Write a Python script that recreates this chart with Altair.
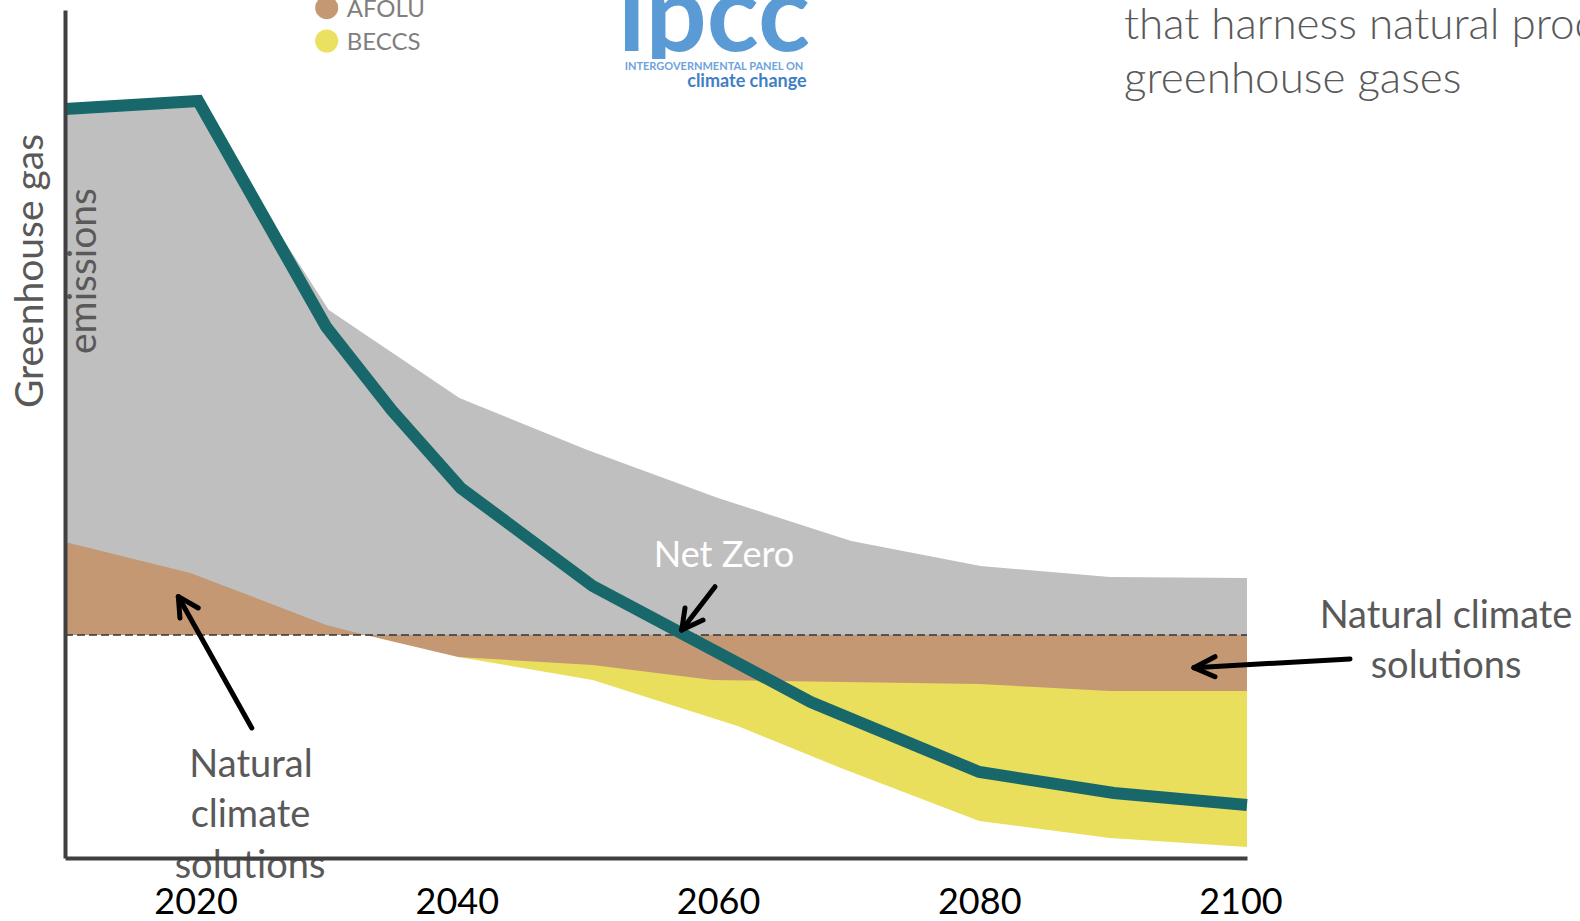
import altair as alt
import pandas as pd

# ---------------- data ----------------
gross_years = [2010, 2020, 2030.2, 2040.2, 2050, 2060, 2070.2, 2080.1, 2090, 2100.5]
gross_top = [52.4, 53.1, 32.5, 23.7, 18.5, 13.7, 9.4, 6.9, 5.8, 5.7]

afolu_years = [2010, 2019.6, 2030, 2033, 2040.1, 2050.4, 2059.6, 2080, 2090, 2100.5]
afolu_vals = [9.3, 6.2, 1.0, 0.0, -2.2, -3.0, -4.5, -4.9, -5.6, -5.6]

beccs_years = [2040.1, 2050.4, 2061.5, 2069.4, 2080, 2090, 2100.5]
beccs_vals = [-2.2, -4.5, -9.1, -13.3, -18.6, -20.3, -21.2]

net_years = [2010, 2020.2, 2030, 2035, 2040.3, 2050.4, 2067.1, 2080, 2090.3, 2100.5]
net_vals = [52.6, 53.4, 30.8, 22.5, 14.7, 4.9, -6.7, -13.7, -15.8, -17.0]

tick_years = [2020, 2040, 2060, 2080, 2100]

# annotation arrows (data units): tail -> tip, plus two head wings
arrow_tail_x = [2024.3, 2059.77, 2108.39]
arrow_tail_y = [-9.3, 4.83, -2.4]
arrow_tip_x = [2018.68, 2057.22, 2096.44]
arrow_tip_y = [3.83, 0.5, -3.27]
arrow_w1_x = [2018.8, 2057.47, 2098.05]
arrow_w1_y = [1.7, 2.7, -2.17]
arrow_w2_x = [2020.2, 2058.85, 2098.05]
arrow_w2_y = [2.7, 1.5, -4.17]

# ---------------- styling ----------------
GREY = "#bfbfbf"
BROWN = "#c39873"
YELLOW = "#e9df5c"
TEAL = "#17676b"
TXT = "#595959"
FONT = "Lato"
OX, OY = 65, 10  # plot origin inside the page

xs = alt.Scale(domain=[2010, 2100.5], nice=False, zero=False)
ys = alt.Scale(domain=[-22.3, 62.5], nice=False, zero=False)
xaxis = alt.Axis(values=tick_years, format="d", title=None, ticks=False, tickSize=0,
                 grid=False, labelFont=FONT, labelFontSize=36, labelColor="black",
                 labelPadding=55, labelBaseline="alphabetic", domainColor="#404040",
                 domainWidth=4, zindex=1, labelFlush=False)
yaxis = alt.Axis(title=None, labels=False, ticks=False, tickSize=0, grid=False,
                 domainColor="#404040", domainWidth=4, zindex=1)


def X(f):
    return alt.X(f, type="quantitative", scale=xs, axis=xaxis)


def Y(f):
    return alt.Y(f, type="quantitative", scale=ys, axis=yaxis)


gross_df = pd.DataFrame({"year": gross_years, "top": gross_top, "zero": 0.0})
afolu_df = pd.DataFrame({"year": afolu_years, "v": afolu_vals, "zero": 0.0})
beccs_df = pd.DataFrame({"year": beccs_years, "v": beccs_vals, "zero": 0.0})
net_df = pd.DataFrame({"year": net_years, "v": net_vals})

grey = alt.Chart(gross_df).mark_area(color=GREY, opacity=1).encode(
    x=X("year"), y=Y("top"), y2="zero")
yellow = alt.Chart(beccs_df).mark_area(color=YELLOW, opacity=1).encode(
    x=X("year"), y=Y("v"), y2="zero")
brown = alt.Chart(afolu_df).mark_area(color=BROWN, opacity=1).encode(
    x=X("year"), y=Y("v"), y2="zero")

zero_df = pd.DataFrame({"x": [2010], "x2": [2100.5], "y": [0.0]})
zero_line = alt.Chart(zero_df).mark_rule(color="#333333", strokeWidth=1.4,
                                         strokeDash=[8, 4]).encode(
    x=X("x"), x2="x2", y=Y("y"))

net_line = alt.Chart(net_df).mark_line(color=TEAL, strokeWidth=12,
                                       strokeJoin="miter", strokeCap="butt").encode(
    x=X("year"), y=Y("v"), order="year:Q")

segs = []
for i in range(len(arrow_tip_x)):
    segs.append((arrow_tail_x[i], arrow_tail_y[i], arrow_tip_x[i], arrow_tip_y[i]))
    segs.append((arrow_w1_x[i], arrow_w1_y[i], arrow_tip_x[i], arrow_tip_y[i]))
    segs.append((arrow_w2_x[i], arrow_w2_y[i], arrow_tip_x[i], arrow_tip_y[i]))
seg_df = pd.DataFrame(segs, columns=["x", "y", "x2", "y2"])
arrows = alt.Chart(seg_df).mark_rule(color="black", strokeWidth=5,
                                     strokeCap="round").encode(
    x=X("x"), y=Y("y"), x2="x2", y2="y2")


def txt(s, x, y, size, color=TXT, align="center", baseline="alphabetic",
        angle=0, weight="normal"):
    return alt.Chart(pd.DataFrame({"t": [s]})).mark_text(
        font=FONT, fontSize=size, color=color, align=align, baseline=baseline,
        angle=angle, fontWeight=weight).encode(
        x=alt.value(x - OX), y=alt.value(y - OY), text="t:N")


def dot(x, y, color):
    return alt.Chart(pd.DataFrame({"t": [0]})).mark_circle(
        size=531, color=color, opacity=1).encode(
        x=alt.value(x - OX), y=alt.value(y - OY))


# white strip under the logo word mark (keeps the logo's short descender clear of the small text)
logo_mask = alt.Chart(pd.DataFrame({"t": [0]})).mark_rect(color="white").encode(
    x=alt.value(608 - OX), x2=alt.value(820 - OX),
    y=alt.value(59 - OY), y2=alt.value(92 - OY))

texts = [
    txt("Greenhouse gas", 43, 271, 39, angle=270),
    txt("emissions", 96, 271, 39, angle=270),
    txt("Net Zero", 724, 566.7, 36, color="white"),
    txt("Natural climate", 1446, 628.3, 38),
    txt("solutions", 1446, 678.3, 38),
    txt("Natural", 251, 776.7, 38),
    txt("climate", 250.5, 826.7, 38),
    txt("solutions", 250, 878.3, 38),
    txt("that harness natural processes to remove", 1124, 39, 44, align="left", weight=300),
    txt("greenhouse gases", 1124, 93, 44, align="left", weight=300),
    txt("AFOLU", 346.7, 16.7, 24, color="#7f7f7f", align="left"),
    txt("BECCS", 346.7, 50, 24, color="#7f7f7f", align="left"),
    txt("ipcc", 714, 51, 108, color="#5b9bd5", weight="bold"),
    logo_mask,
    txt("INTERGOVERNMENTAL PANEL ON", 714, 66.7, 11, color="#6fa3db",
        baseline="middle", weight="bold"),
    txt("climate change", 806.7, 81.7, 18, color="#3f7fc5", align="right",
        baseline="middle", weight="bold"),
    dot(326.7, 7.7, BROWN),
    dot(326.7, 41, "#ebe160"),
]

chart = alt.layer(grey, yellow, brown, zero_line, net_line, arrows, *texts).properties(
    width=1182, height=848,
    autosize=alt.AutoSizeParams(type="none"),
    padding={"left": OX, "top": OY, "right": 1580 - OX - 1182, "bottom": 921 - OY - 848},
    background="white",
).configure_view(stroke=None)

chart.save("out.html", embed_options={"renderer": "svg", "actions": False})
